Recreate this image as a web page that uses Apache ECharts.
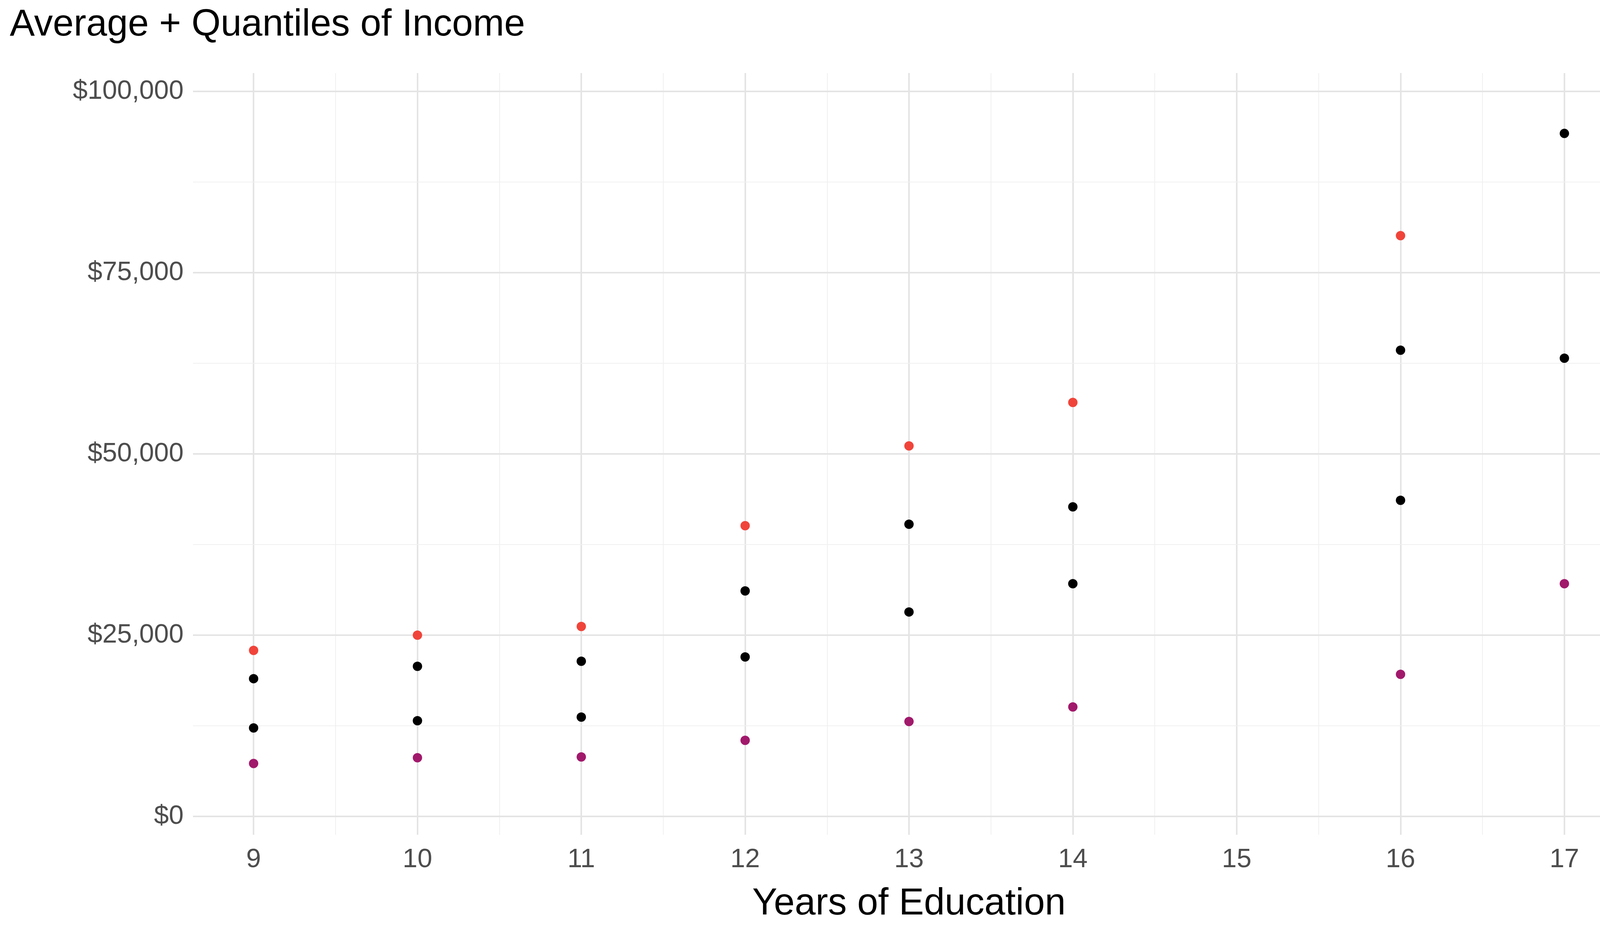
<!DOCTYPE html>
<html><head><meta charset="utf-8">
<script src="https://cdn.jsdelivr.net/npm/echarts@6/dist/echarts.min.js"></script>
<style>html,body{margin:0;background:#fff}#c{width:4166px;height:2391px}</style>
</head><body><div id="c"></div>
<script>
const years = [9, 10, 11, 12, 13, 14, 16, 17]
const upper = [22900, 25000, 26200, 40100, 51100, 57100, 80100, null]
const mean = [19000, 20700, 21400, 31100, 40300, 42700, 64300, 94200]
const median = [12200, 13200, 13700, 22000, 28200, 32100, 43600, 63200]
const lower = [7300, 8100, 8200, 10500, 13100, 15100, 19600, 32100]
const xTicks = [9, 10, 11, 12, 13, 14, 15, 16, 17]
const yTicks = [0, 25000, 50000, 75000, 100000]

const pts = arr => years.map((y, i) => [y, arr[i]]).filter(p => p[1] != null)

const major = { color: '#e4e4e4', width: 4, type: 'solid' }
const minor = { color: '#f0f0f0', width: 2, type: 'solid' }
const gridLines = []
xTicks.forEach(v => gridLines.push({ xAxis: v, lineStyle: major }))
xTicks.slice(0, -1).forEach(v => gridLines.push({ xAxis: v + 0.5, lineStyle: minor }))
yTicks.forEach(v => gridLines.push({ yAxis: v, lineStyle: major }))
yTicks.slice(0, -1).forEach(v => gridLines.push({ yAxis: v + 12500, lineStyle: minor }))

const mk = (name, arr, color, withGrid) => ({
  name, type: 'scatter', data: pts(arr), symbolSize: 24,
  itemStyle: { color, opacity: 1 }, z: 5,
  markLine: withGrid ? { silent: true, symbol: 'none', label: { show: false }, data: gridLines, z: 1 } : undefined
})

const chart = echarts.init(document.getElementById('c'))
chart.setOption({
  animation: false,
  title: { text: 'Average + Quantiles of Income', left: 20, top: 12,
    textStyle: { fontFamily: 'Liberation Sans', fontWeight: 'normal', fontSize: 96, color: '#000' } },
  grid: { left: 494, right: 6, top: 187, bottom: 254, containLabel: false, outerBoundsMode: 'none' },
  xAxis: {
    type: 'value', min: 8.63, max: 17.37,
    name: 'Years of Education', nameLocation: 'middle', nameGap: 130,
    nameTextStyle: { fontFamily: 'Liberation Sans', fontSize: 96, color: '#000' },
    axisLine: { show: false }, axisTick: { show: false }, splitLine: { show: false },
    axisLabel: { customValues: xTicks, fontFamily: 'Liberation Sans', fontSize: 68, color: '#4d4d4d', margin: 30 }
  },
  yAxis: {
    type: 'value', min: -2530, max: 102530,
    axisLine: { show: false }, axisTick: { show: false }, splitLine: { show: false },
    axisLabel: { customValues: yTicks, fontFamily: 'Liberation Sans', fontSize: 68, color: '#4d4d4d', margin: 24,
      formatter: v => '$' + v.toLocaleString('en-US') }
  },
  series: [
    mk('upper', upper, '#F0443A', true),
    mk('mean', mean, '#000000'),
    mk('median', median, '#000000'),
    mk('lower', lower, '#A1196B')
  ]
})
</script></body></html>
